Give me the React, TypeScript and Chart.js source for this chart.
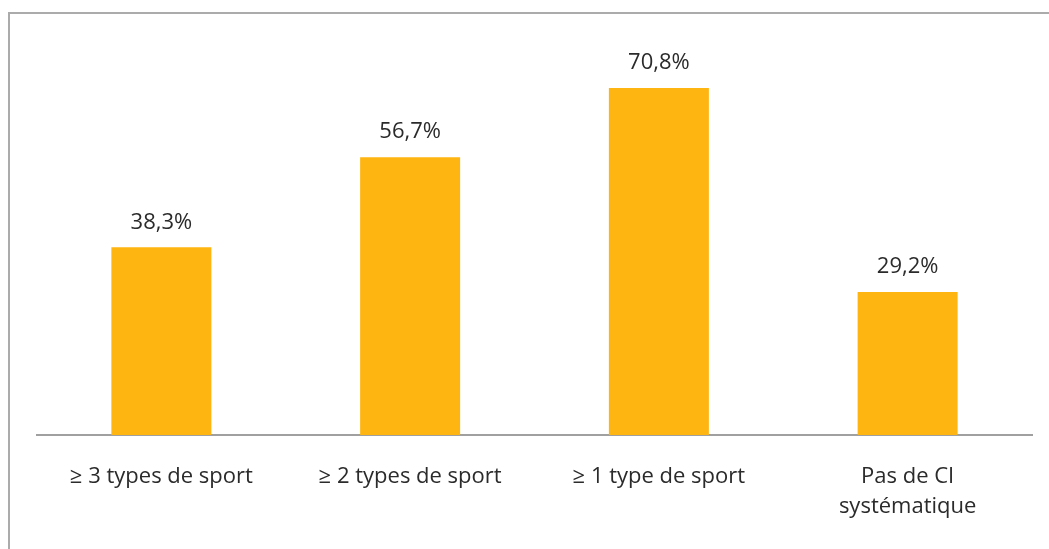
import React, { useEffect, useRef } from "react";
import { Chart, registerables } from "chart.js";

Chart.register(...registerables);

const categories: (string | string[])[] = [
  "≥ 3 types de sport",
  "≥ 2 types de sport",
  "≥ 1 type de sport",
  ["Pas de CI", "systématique"],
];
const values: number[] = [38.3, 56.7, 70.8, 29.2];
const valueLabels: string[] = ["38,3%", "56,7%", "70,8%", "29,2%"];

const FONT = "'Open Sans', sans-serif";
const TEXT = "#2b2b2b";

const dataLabelPlugin = {
  id: "dataLabels",
  afterDatasetsDraw(chart: any) {
    const ctx = chart.ctx;
    const meta = chart.getDatasetMeta(0);
    ctx.save();
    ctx.font = `22px ${FONT}`;
    ctx.fillStyle = TEXT;
    ctx.textAlign = "center";
    ctx.textBaseline = "middle";
    meta.data.forEach((bar: any, i: number) => {
      ctx.fillText(valueLabels[i], bar.x, bar.y - 25);
    });
    ctx.restore();
  },
};

export default function App() {
  const ref = useRef<HTMLCanvasElement>(null);
  useEffect(() => {
    if (!ref.current) return;
    const chart = new Chart(ref.current, {
      type: "bar",
      data: {
        labels: categories,
        datasets: [
          {
            data: values,
            backgroundColor: "#FFB511",
            borderWidth: 0,
            categoryPercentage: 1,
            barPercentage: 0.402,
          },
        ],
      },
      options: {
        animation: false,
        responsive: false,
        layout: { padding: { left: 37, right: 17, top: 43, bottom: 0 } },
        plugins: {
          legend: { display: false },
          tooltip: { enabled: false },
        },
        scales: {
          x: {
            offset: true,
            grid: { display: false, drawTicks: false },
            border: { display: true, color: "#a0a0a0", width: 2 },
            ticks: {
              color: TEXT,
              padding: 27,
              maxRotation: 0,
              autoSkip: false,
              font: { family: FONT, size: 22, lineHeight: 30 / 22 },
            },
            afterFit(scale: any) {
              scale.height = 114;
            },
          },
          y: { display: false, min: 0, max: 80 },
        },
      },
      plugins: [dataLabelPlugin],
    });
    return () => chart.destroy();
  }, []);

  return (
    <div
      style={{
        position: "fixed",
        left: 0,
        top: 0,
        width: "100vw",
        height: "100vh",
        overflow: "hidden",
        background: "#fff",
      }}
    >
      <div
        style={{
          position: "absolute",
          left: 8,
          top: 12,
          width: 1200,
          height: 700,
          borderTop: "2px solid #ababab",
          borderLeft: "2px solid #ababab",
        }}
      />
      <canvas
        ref={ref}
        width={1049}
        height={549}
        style={{ position: "absolute", left: 0, top: 0 }}
      />
    </div>
  );
}
